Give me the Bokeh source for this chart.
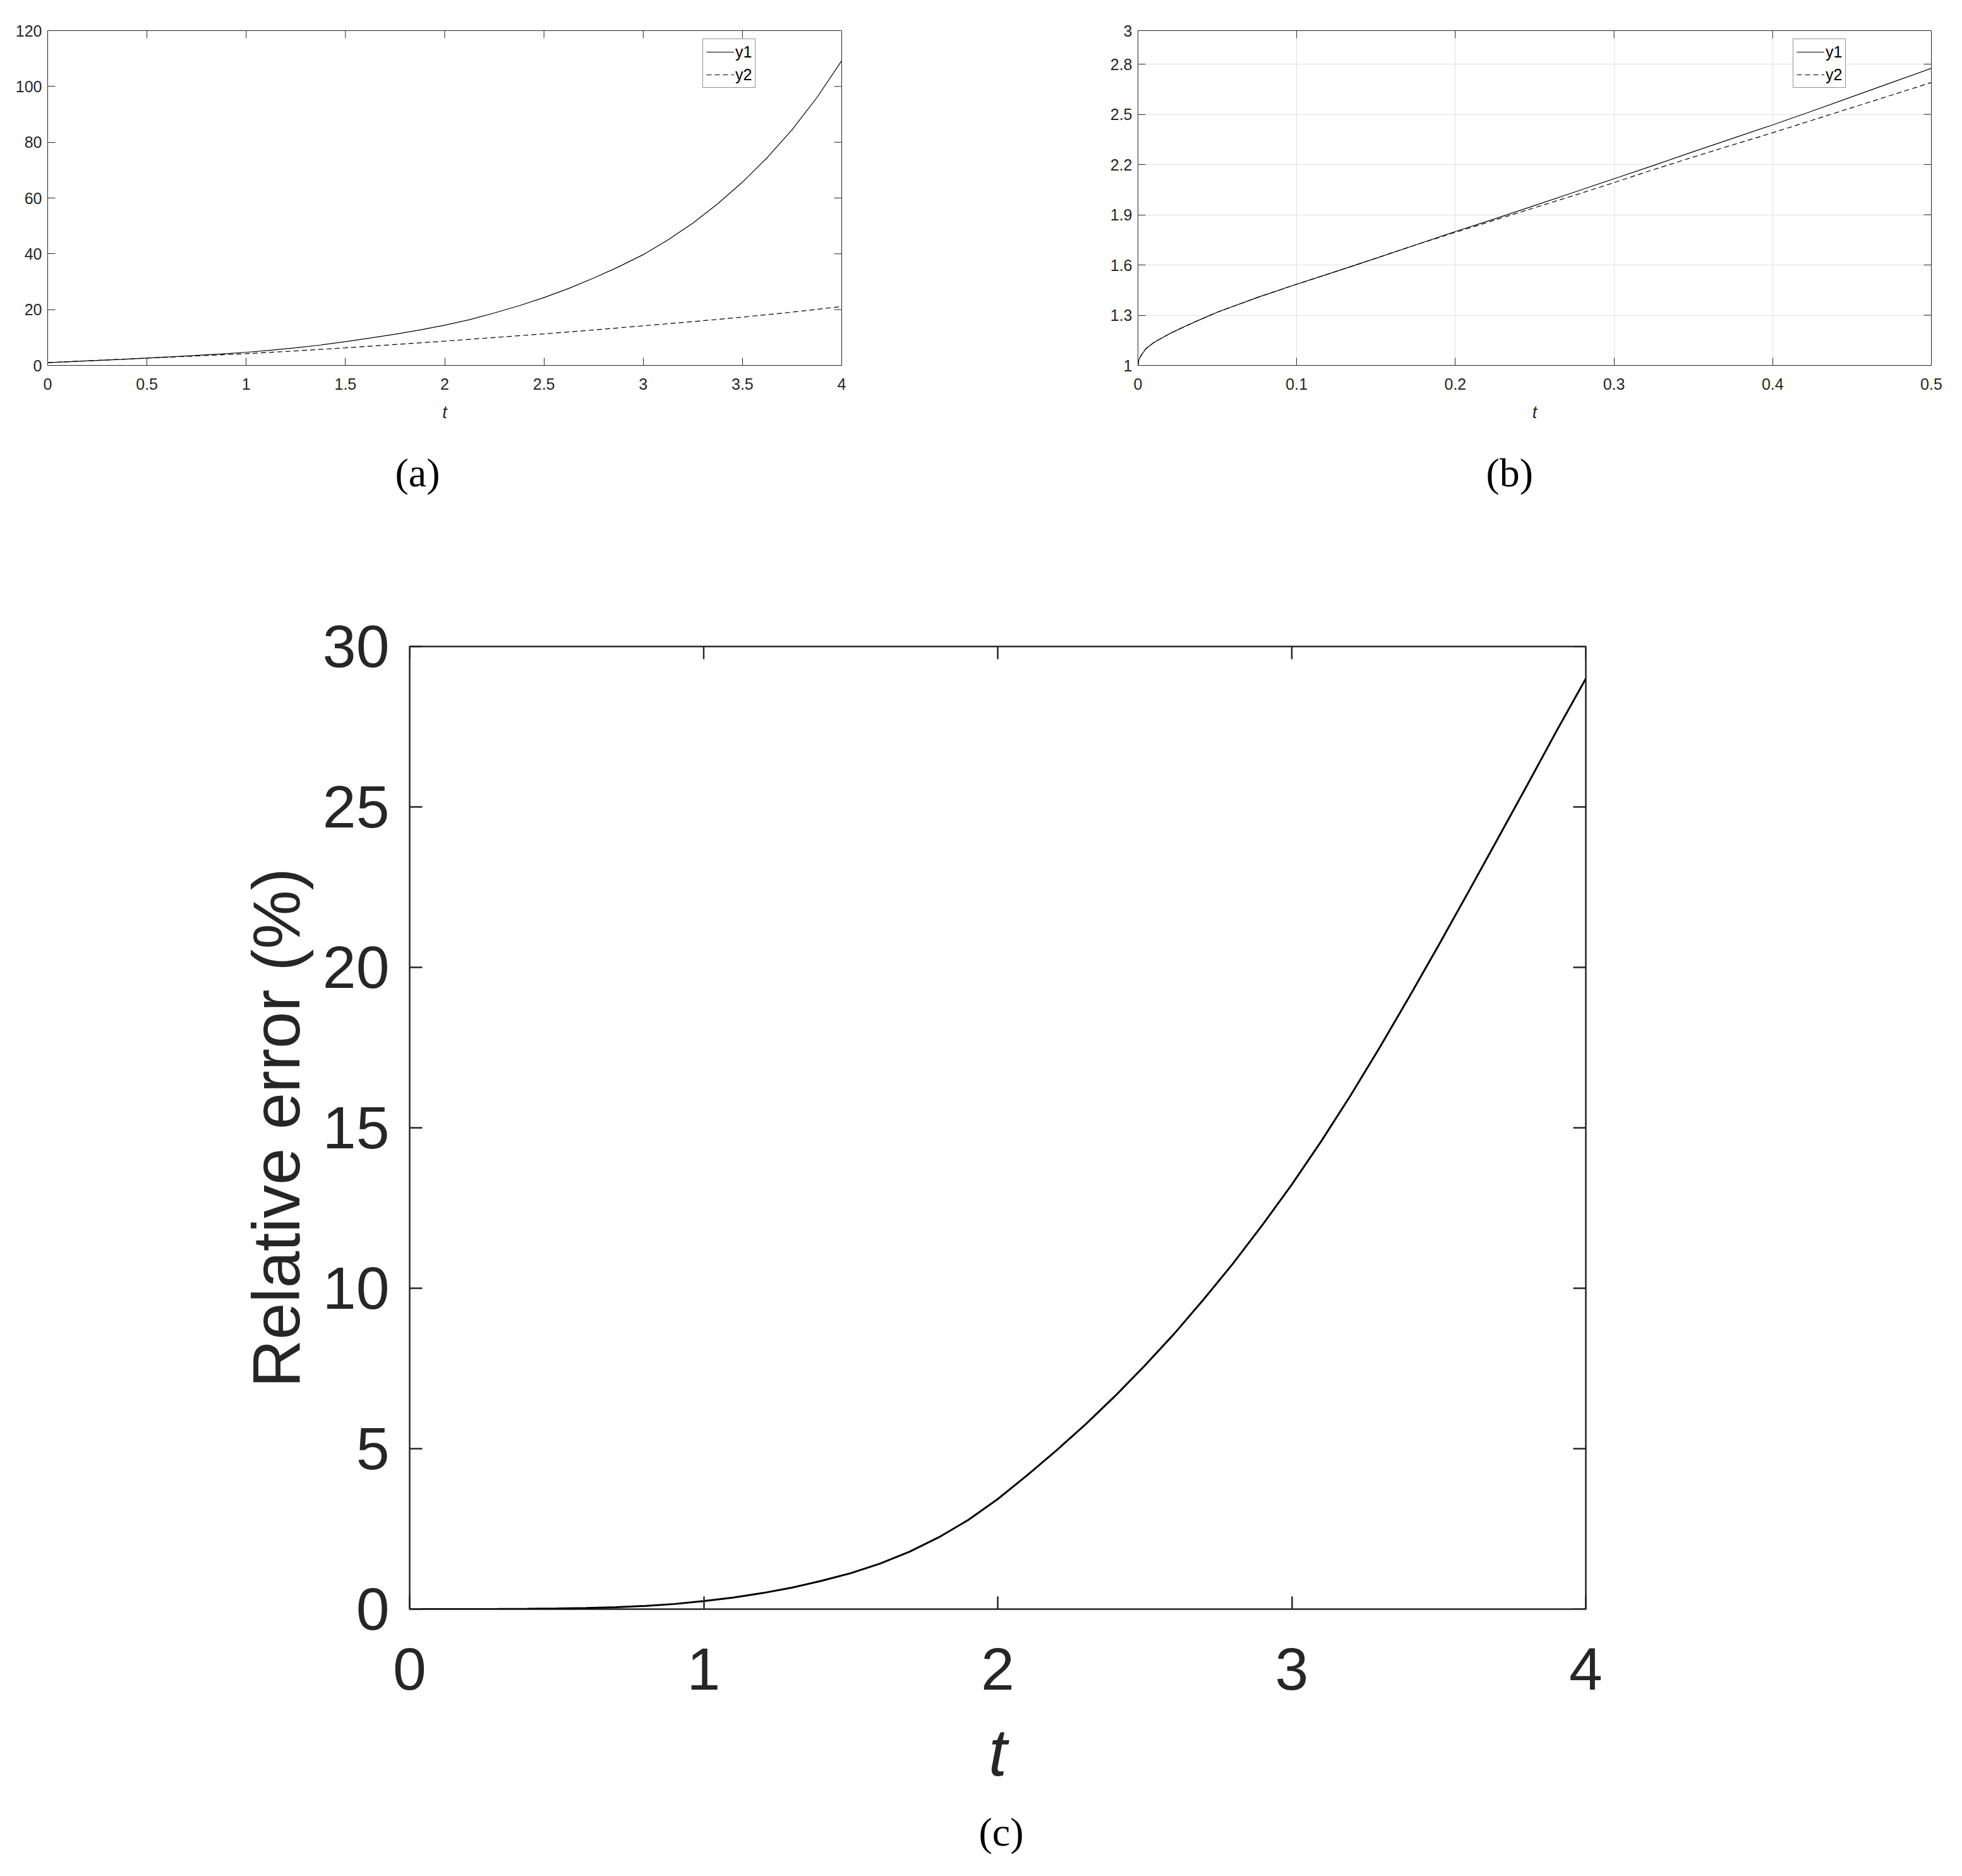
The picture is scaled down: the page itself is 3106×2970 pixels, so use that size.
from bokeh.plotting import figure
from bokeh.models import FixedTicker, Title, Spacer
from bokeh.layouts import column, row
from bokeh.embed import file_html
from bokeh.resources import INLINE

# ---------------- data ----------------
# panel (a)
t_a = [0, 0.125, 0.25, 0.375, 0.5, 0.625, 0.75, 0.875, 1, 1.125, 1.25, 1.375, 1.5, 1.625, 1.75, 1.875,
       2, 2.125, 2.25, 2.375, 2.5, 2.625, 2.75, 2.875, 3, 3.125, 3.25, 3.375, 3.5, 3.625, 3.75, 3.875, 4]
y1_a = [1.0, 1.4, 1.8, 2.2, 2.65, 3.1, 3.6, 4.1, 4.7, 5.45, 6.3, 7.3, 8.5, 9.8, 11.2, 12.7,
        14.4, 16.4, 18.8, 21.4, 24.3, 27.6, 31.3, 35.3, 39.7, 45.0, 51.0, 57.9, 65.7, 74.5, 84.5, 96.0, 109.2]
t_a2 = [0, 0.25, 0.5, 0.75, 1, 1.25, 1.5, 1.75, 2, 2.25, 2.5, 2.75, 3, 3.25, 3.5, 3.75, 4]
y2_a = [1.0, 1.8, 2.6, 3.4, 4.2, 5.2, 6.3, 7.5, 8.7, 10.0, 11.3, 12.7, 14.2, 15.7, 17.3, 19.1, 21.1]
xticks_a = [0, 0.5, 1, 1.5, 2, 2.5, 3, 3.5, 4]
xlabels_a = ["0", "0.5", "1", "1.5", "2", "2.5", "3", "3.5", "4"]
yticks_a = [0, 20, 40, 60, 80, 100, 120]
ylabels_a = ["0", "20", "40", "60", "80", "100", "120"]

# panel (b)
t_b = [0, 0.0005, 0.001, 0.002, 0.005, 0.01, 0.02, 0.03, 0.04, 0.05, 0.075, 0.1, 0.125, 0.15,
       0.175, 0.2, 0.225, 0.25, 0.275, 0.3, 0.325, 0.35, 0.375, 0.4, 0.425, 0.45, 0.475, 0.5]
y1_b = [1.0, 1.031, 1.043, 1.06, 1.10, 1.137, 1.19, 1.235, 1.277, 1.318, 1.405, 1.485, 1.562, 1.64,
        1.72, 1.80, 1.876, 1.955, 2.035, 2.115, 2.195, 2.277, 2.357, 2.437, 2.52, 2.605, 2.69, 2.775]
y2_b = [1.0, 1.031, 1.043, 1.06, 1.10, 1.137, 1.19, 1.235, 1.277, 1.318, 1.405, 1.485, 1.562, 1.64,
        1.72, 1.795, 1.868, 1.942, 2.016, 2.092, 2.17, 2.245, 2.318, 2.39, 2.465, 2.54, 2.615, 2.69]
xticks_b = [0, 0.1, 0.2, 0.3, 0.4, 0.5]
xlabels_b = ["0", "0.1", "0.2", "0.3", "0.4", "0.5"]
yticks_b = [1, 1.3, 1.6, 1.9, 2.2, 2.5, 2.8, 3]
ylabels_b = ["1", "1.3", "1.6", "1.9", "2.2", "2.5", "2.8", "3"]

# panel (c)
t_c = [0, 0.1, 0.2, 0.3, 0.4, 0.5, 0.6, 0.7, 0.8, 0.9, 1.0, 1.1, 1.2, 1.3, 1.4, 1.5, 1.6, 1.7, 1.8, 1.9,
       2.0, 2.1, 2.2, 2.3, 2.4, 2.5, 2.6, 2.7, 2.8, 2.9, 3.0, 3.1, 3.2, 3.3, 3.4, 3.5, 3.6, 3.7, 3.8, 3.9, 4.0]
err_c = [0, 0.0, 0.001, 0.003, 0.008, 0.018, 0.035, 0.06, 0.1, 0.16, 0.25, 0.36, 0.5, 0.67, 0.88, 1.12,
         1.42, 1.79, 2.24, 2.78, 3.43, 4.17, 4.95, 5.77, 6.65, 7.59, 8.58, 9.65, 10.77, 11.97, 13.23,
         14.58, 16.01, 17.52, 19.09, 20.7, 22.34, 24.0, 25.67, 27.36, 29.0]
xticks_c = [0, 1, 2, 3, 4]
xlabels_c = ["0", "1", "2", "3", "4"]
yticks_c = [0, 5, 10, 15, 20, 25, 30]
ylabels_c = ["0", "5", "10", "15", "20", "25", "30"]

INK = "#262626"
SANS = "Liberation Sans"
SERIF = "Liberation Serif"


def setup_axes(p, xr, yr, xt, xl, yt, yl, tick_px, tick_len, lw, sx, sy):
    xa, ya = p.below[0], p.left[0]
    xa.ticker = FixedTicker(ticks=xt)
    ya.ticker = FixedTicker(ticks=yt)
    xa.major_label_overrides = dict(zip(xt, xl))
    ya.major_label_overrides = dict(zip(yt, yl))
    xa.major_label_standoff = sx
    ya.major_label_standoff = sy
    for ax in (xa, ya):
        ax.axis_line_color = None
        ax.major_tick_in = tick_len
        ax.major_tick_out = 0
        ax.major_tick_line_color = INK
        ax.major_tick_line_width = lw
        ax.minor_tick_line_color = None
        ax.major_label_text_font = SANS
        ax.major_label_text_font_size = f"{tick_px}px"
        ax.major_label_text_color = INK
    # mirrored inward ticks on the top and right edges of the box
    p.ray(x=xt, y=[yr[1]] * len(xt), length=tick_len, length_units="screen",
          angle=-90, angle_units="deg", line_color=INK, line_width=lw)
    p.ray(x=[xr[1]] * len(yt), y=yt, length=tick_len, length_units="screen",
          angle=180, angle_units="deg", line_color=INK, line_width=lw)
    p.outline_line_color = INK
    p.outline_line_width = lw
    p.outline_line_alpha = 1.0


def make_fig(fw, fh, xr, yr, bl, br, bt, bb):
    return figure(frame_width=fw, frame_height=fh, x_range=xr, y_range=yr,
                  output_backend="svg", toolbar_location=None, title_location=None,
                  min_border_left=bl, min_border_right=br, min_border_top=bt, min_border_bottom=bb,
                  background_fill_color="white", border_fill_color="white")


def caption(p, text, left, standoff):
    p.add_layout(Title(text=text, align="left", offset=left, standoff=standoff,
                       text_font=SERIF, text_font_size="64px", text_font_style="normal",
                       text_color="black"), "below")


def small_panel(t1, y1, t2, y2, xt, xl, yt, yl, xr, yr, fw, bl, br, label, cap_left, grid):
    p = make_fig(fw, 530, xr, yr, bl, br, 48, 200)
    setup_axes(p, xr, yr, xt, xl, yt, yl, 25, 12, 1, 20, 9)
    if grid:
        p.xgrid.ticker = FixedTicker(ticks=xt)
        p.ygrid.ticker = FixedTicker(ticks=yt)
        p.grid.grid_line_color = "#e0e0e0"
        p.grid.grid_line_width = 1
    else:
        p.grid.visible = False
    xa = p.below[0]
    xa.axis_label = "t"
    xa.axis_label_text_font = SANS
    xa.axis_label_text_font_style = "italic"
    xa.axis_label_text_font_size = "27px"
    xa.axis_label_text_color = INK
    xa.axis_label_standoff = 18
    p.line(t1, y1, line_color="black", line_width=1.2, legend_label="y1")
    p.line(t2, y2, line_color="black", line_width=1.2, line_dash="8 5", legend_label="y2")
    lg = p.legend[0]
    lg.location = (1037, 439)
    lg.label_text_font = SANS
    lg.label_text_font_size = "25px"
    lg.label_text_color = "black"
    lg.glyph_width = 44
    lg.glyph_height = 30
    lg.label_height = 30
    lg.label_standoff = 2
    lg.spacing = 6
    lg.padding = 5
    lg.margin = 0
    lg.border_line_color = INK
    lg.border_line_width = 1
    lg.background_fill_color = "white"
    lg.background_fill_alpha = 1
    caption(p, label, cap_left, 80)
    return p


fa = small_panel(t_a, y1_a, t_a2, y2_a, xticks_a, xlabels_a, yticks_a, ylabels_a,
                 (0, 4), (0, 120), 1257, 75, 368, "(a)", 550, False)
fb = small_panel(t_b, y1_b, t_b, y2_b, xticks_b, xlabels_b, yticks_b, ylabels_b,
                 (0, 0.5), (1, 3), 1256, 101, 30, "(b)", 551, True)

# panel (c)
fc = make_fig(1862, 1524, (0, 4), (0, 30), 348, 60, 200, 420)
setup_axes(fc, (0, 4), (0, 30), xticks_c, xlabels_c, yticks_c, ylabels_c, 95, 20, 2.5, 62, 32)
fc.grid.visible = False
fc.line(t_c, err_c, line_color="black", line_width=3)
xa = fc.below[0]
xa.axis_label = "t"
xa.axis_label_text_font = SANS
xa.axis_label_text_font_style = "italic"
xa.axis_label_text_font_size = "105px"
xa.axis_label_text_color = INK
xa.axis_label_standoff = 38
ya = fc.left[0]
ya.axis_label = "Relative error (%)"
ya.axis_label_text_font = SANS
ya.axis_label_text_font_style = "normal"
ya.axis_label_text_font_size = "105px"
ya.axis_label_text_color = INK
ya.axis_label_standoff = 12
caption(fc, "(c)", 901, 54)

layout = column(row(fa, fb), row(Spacer(width=300, height=10), fc))

open("out.html", "w").write(file_html(layout, INLINE))
